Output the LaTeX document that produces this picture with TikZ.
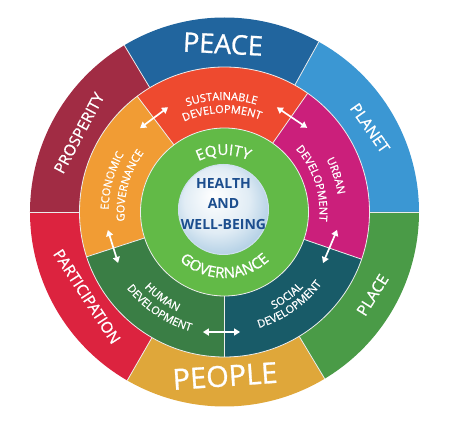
\documentclass[tikz,border=0pt]{standalone}
\usepackage{fontspec}
\setmainfont{Open Sans}
\newfontfamily\labelfont[FakeBold=0.9]{Open Sans}
\usetikzlibrary{arrows.meta,decorations.text}

\definecolor{peace}{HTML}{21659E}
\definecolor{planet}{HTML}{3B97D3}
\definecolor{place}{HTML}{4A9B47}
\definecolor{people}{HTML}{DFA73A}
\definecolor{participation}{HTML}{DC233F}
\definecolor{prosperity}{HTML}{A12C44}
\definecolor{sustain}{HTML}{EE4A2F}
\definecolor{urban}{HTML}{CB1F7B}
\definecolor{social}{HTML}{185B68}
\definecolor{human}{HTML}{3A7E45}
\definecolor{economic}{HTML}{F19C34}
\definecolor{equity}{HTML}{62BA47}
\definecolor{healthblue}{HTML}{1C4E8E}
\definecolor{sphereblue}{HTML}{86B4D6}

% colour, start angle, end angle, inner radius, outer radius
\newcommand{\ringsector}[5]{%
  \fill[#1] (#2:#4) arc[start angle=#2,end angle=#3,radius=#4]
    -- (#3:#5) arc[start angle=#3,end angle=#2,radius=#5] -- cycle;}
% radius, from angle, to angle, text
\newcommand{\ringtext}[4]{%
  \path[decorate,decoration={text along path,text align=center,
    text color=white,text={#4}}] (#2:#1) arc[start angle=#2,end angle=#3,radius=#1];}
\newcommand{\midfont}{\labelfont\fontsize{11}{12}\selectfont}
\newcommand{\innerfont}{\labelfont\fontsize{15}{17}\selectfont}

\pgfdeclareradialshading{sphereshade}{\pgfpoint{-6bp}{8bp}}{%
  color(0bp)=(white); color(18bp)=(white!75!sphereblue);
  color(40bp)=(sphereblue); color(50bp)=(sphereblue!85!healthblue)}

\begin{document}
\begin{tikzpicture}[
x=1pt,y=1pt,
border/.style={draw=white!85!gray,line width=0.8pt},
bigword/.style={text=white,inner sep=0pt,font=\labelfont\fontsize{28}{30}\selectfont},
outerword/.style={text=white,inner sep=0pt,font=\labelfont\fontsize{15.5}{17}\selectfont},
twoway/.style={white,line width=1.7pt,{Triangle[width=7pt,length=6pt]}-{Triangle[width=7pt,length=6pt]}}
]
\useasboundingbox (-224.5,-213) rectangle (225.5,212);

% outer ring
\foreach \col/\a/\b in {planet/0/61,peace/61/121,prosperity/121/180,
  participation/180/240,people/240/301,place/301/360}
  \ringsector{\col}{\a}{\b}{145}{194.5};
\foreach \a in {0,61,121,180,240,301}
  \draw[border] (\a:145) -- (\a:194.5);

% middle ring
\foreach \col/\a/\b in {urban/-19/55,sustain/55/127,economic/127/198,
  human/198/270,social/270/341}
  \ringsector{\col}{\a}{\b}{84}{145};
\foreach \a in {-19,55,127,198,270}
  \draw[border] (\a:84) -- (\a:145);
\draw[border] (0,0) circle[radius=145];

% green ring and centre
\fill[equity] (0,0) circle[radius=84];
\draw[border] (0,0) circle[radius=84];
\shade[shading=sphereshade] (-1,2.5) circle[radius=45];
\draw[draw=white!60!sphereblue,line width=1pt] (-1,2.5) circle[radius=45];
\node[text=healthblue,align=center,inner sep=0pt,
  font=\fontsize{14}{20.5}\selectfont\bfseries] (health) at (-1,8)
  {HEALTH\\AND\\WELL-BEING};

% outer labels
\node[bigword,rotate=-3,font=\labelfont\fontsize{27}{29}\selectfont] (peacelbl) at (-1.5,168) {PEACE};
\node[outerword,rotate=-55] (planetlbl) at (145.5,84) {PLANET};
\node[outerword,rotate=58] (placelbl) at (148,-83) {PLACE};
\node[bigword,rotate=4,font=\labelfont\fontsize{29}{31}\selectfont] (peoplelbl) at (0.5,-164) {PEOPLE};
\node[outerword,rotate=-57] (participationlbl) at (-137.5,-84.5) {PARTICIPATION};
\node[outerword,rotate=62] (prosperitylbl) at (-145.5,79) {PROSPERITY};

% middle labels
\ringtext{112}{131.5}{51.5}{|\midfont|SUSTAINABLE}
\ringtext{99}{131.5}{51.5}{|\midfont|DEVELOPMENT}
\ringtext{116}{204.5}{124.5}{|\midfont|ECONOMIC}
\ringtext{100}{204.5}{124.5}{|\midfont|GOVERNANCE}
\ringtext{114.5}{58}{-22}{|\midfont|URBAN}
\ringtext{95}{58}{-22}{|\midfont|DEVELOPMENT}
\ringtext{110}{194}{274}{|\midfont|HUMAN}
\ringtext{124}{196}{276}{|\midfont|DEVELOPMENT}
\ringtext{109}{-93.4}{-13.4}{|\midfont|SOCIAL}
\ringtext{121}{-95}{-15}{|\midfont|DEVELOPMENT}

% green ring labels
\ringtext{57}{131}{51}{|\innerfont|EQUITY}
\ringtext{66}{215}{325}{|\innerfont|GOVERNANCE}

% links between the middle sectors
\coordinate (econ1) at (135.2:119);
\coordinate (sust1) at (118.3:119);
\coordinate (sust2) at (63.4:117);
\coordinate (urb1) at (45.5:118);
\coordinate (urb2) at (-9:114);
\coordinate (soc1) at (-27.4:111);
\coordinate (soc2) at (277.4:121);
\coordinate (hum1) at (259.8:122);
\coordinate (hum2) at (205.6:118);
\coordinate (econ2) at (188.8:118);
\draw[twoway] (econ1) -- (sust1);
\draw[twoway] (sust2) -- (urb1);
\draw[twoway] (urb2) -- (soc1);
\draw[twoway] (soc2) -- (hum1);
\draw[twoway] (hum2) -- (econ2);
\end{tikzpicture}
\end{document}
